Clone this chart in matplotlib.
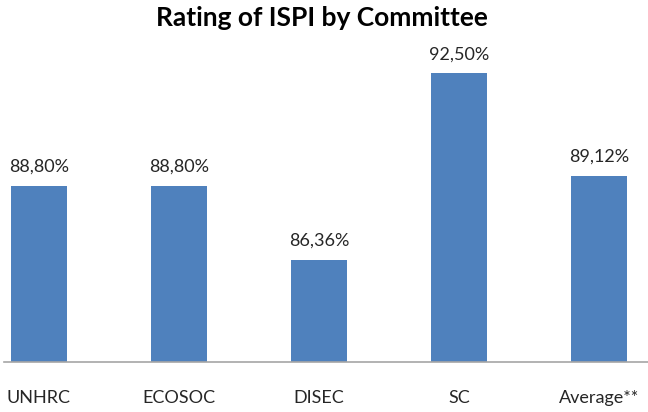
import matplotlib
matplotlib.use("Agg")
import matplotlib.pyplot as plt

categories = ["UNHRC", "ECOSOC", "DISEC", "SC", "Average**"]
values = [88.80, 88.80, 86.36, 92.50, 89.12]
labels = ["88,80%", "88,80%", "86,36%", "92,50%", "89,12%"]

plt.rcParams['font.family'] = ['Lato', 'DejaVu Sans']

W, H = 648, 412
fig = plt.figure(figsize=(W/100, H/100), dpi=100)
ax = fig.add_axes([4/W, 50/H, (W-4)/W, (362-40)/H])

x = list(range(len(categories)))
ax.bar(x, values, width=0.4, color="#4F81BD", bottom=0)
ax.set_xlim(-0.25, 4.35)
ax.set_ylim(83.0, 83.0 + 322/30.37)

for xi, v, lab in zip(x, values, labels):
    ax.annotate(lab, (xi, v), xytext=(0, 8), textcoords="offset points",
                ha="center", va="bottom", fontsize=13, color="#262626")

ax.set_xticks(x)
ax.set_xticklabels(categories, fontsize=13, color="#262626")
ax.tick_params(axis='x', length=0, pad=20)
ax.set_yticks([])
for s in ["left", "right", "top"]:
    ax.spines[s].set_visible(False)
ax.spines["bottom"].set_color("#A6A6A6")
ax.spines["bottom"].set_linewidth(1.2)

fig.text(0.5 - 2/W, 1 - 18/H, "Rating of ISPI by Committee", ha="center", va="center",
         fontsize=19, fontweight="bold", color="#000000")

fig.savefig("out.png", dpi=100)
